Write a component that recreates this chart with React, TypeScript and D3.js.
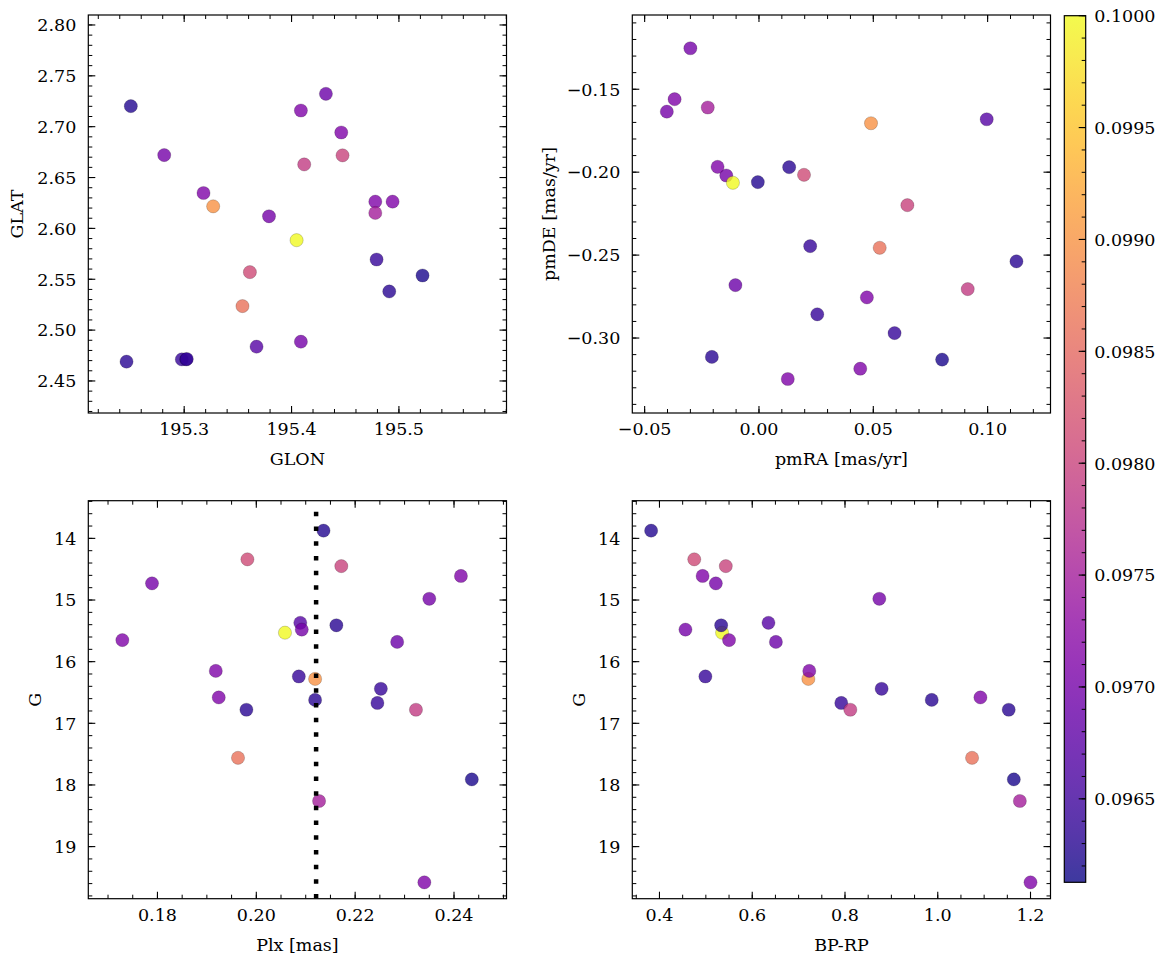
import React from "react";
import * as d3 from "d3";

// ---- Star data (one entry per star, in drawing order) ----
const glon = [195.2503, 195.3612, 195.4475, 195.2814, 195.318, 195.379, 195.3674, 195.4087, 195.4047, 195.2463, 195.4087, 195.432, 195.327, 195.4463, 195.2978, 195.478, 195.3019, 195.3024, 195.4792, 195.491, 195.4118, 195.3543, 195.522, 195.478, 195.4941];
const glat = [2.7202, 2.557, 2.6718, 2.6721, 2.6348, 2.6119, 2.4837, 2.4886, 2.5884, 2.469, 2.7159, 2.7323, 2.6217, 2.6943, 2.4712, 2.6263, 2.4712, 2.4716, 2.5694, 2.538, 2.6629, 2.5236, 2.5537, 2.6152, 2.6263];
const pmra = [-0.0005, 0.0197, 0.0649, -0.03, -0.0369, -0.0403, 0.0996, -0.0143, -0.0114, 0.0132, -0.0181, -0.0103, 0.049, 0.0472, 0.0224, 0.0443, 0.1126, 0.0255, 0.0593, -0.0206, 0.0913, 0.0528, 0.0801, -0.0224, 0.0126];
const pmde = [-0.206, -0.2016, -0.2199, -0.1253, -0.156, -0.1635, -0.1681, -0.202, -0.2064, -0.197, -0.1968, -0.2681, -0.1705, -0.2755, -0.2446, -0.3185, -0.2538, -0.2857, -0.297, -0.3114, -0.2705, -0.2456, -0.313, -0.161, -0.3247];
const plx = [0.2136, 0.1982, 0.2172, 0.1789, 0.2414, 0.235, 0.2089, 0.2092, 0.2058, 0.2162, 0.1729, 0.2285, 0.2119, 0.1918, 0.2086, 0.1924, 0.2119, 0.2252, 0.2245, 0.198, 0.2323, 0.1963, 0.2436, 0.2127, 0.234];
const gmag = [13.875, 14.34, 14.45, 14.73, 14.61, 14.98, 15.37, 15.48, 15.53, 15.41, 15.65, 15.68, 16.28, 16.15, 16.24, 16.58, 16.62, 16.44, 16.67, 16.78, 16.78, 17.56, 17.91, 18.26, 19.58];
const bprp = [0.382, 0.475, 0.543, 0.5215, 0.493, 0.874, 0.635, 0.456, 0.535, 0.533, 0.55, 0.651, 0.721, 0.723, 0.499, 1.092, 0.987, 0.879, 0.792, 1.153, 0.8115, 1.074, 1.164, 1.177, 1.2];
const cval = [0.09625, 0.0981, 0.098, 0.097, 0.0971, 0.097, 0.0967, 0.097, 0.1, 0.0963, 0.0971, 0.0969, 0.099, 0.0971, 0.0964, 0.0971, 0.0963, 0.0964, 0.0964, 0.0963, 0.0979, 0.0986, 0.0962, 0.0975, 0.0971];

// reference parallax line
const plxRef = 0.2121;

// ---- Axis limits and tick labels ----
const glonDomain = [195.2107, 195.6002];
const glatDomain = [2.4185, 2.8098];
const pmraDomain = [-0.0554, 0.1275];
const pmdeDomain = [-0.3452, -0.10524];
const plxDomain = [0.16601, 0.25062];
const bprpDomain = [0.3414, 1.2431];
const gDomain = [13.389, 19.845];
const cDomain = [0.096127, 0.1];

const glonTicks = [195.3, 195.4, 195.5];
const glonTickLabels = ["195.3", "195.4", "195.5"];
const glatTicks = [2.45, 2.5, 2.55, 2.6, 2.65, 2.7, 2.75, 2.8];
const glatTickLabels = ["2.45", "2.50", "2.55", "2.60", "2.65", "2.70", "2.75", "2.80"];
const pmraTicks = [-0.05, 0, 0.05, 0.1];
const pmraTickLabels = ["\u22120.05", "0.00", "0.05", "0.10"];
const pmdeTicks = [-0.3, -0.25, -0.2, -0.15];
const pmdeTickLabels = ["\u22120.30", "\u22120.25", "\u22120.20", "\u22120.15"];
const plxTicks = [0.18, 0.2, 0.22, 0.24];
const plxTickLabels = ["0.18", "0.20", "0.22", "0.24"];
const bprpTicks = [0.4, 0.6, 0.8, 1.0, 1.2];
const bprpTickLabels = ["0.4", "0.6", "0.8", "1.0", "1.2"];
const gTicks = [14, 15, 16, 17, 18, 19];
const gTickLabels = ["14", "15", "16", "17", "18", "19"];
const cTicks = [0.0965, 0.097, 0.0975, 0.098, 0.0985, 0.099, 0.0995, 0.1];
const cTickLabels = ["0.0965", "0.0970", "0.0975", "0.0980", "0.0985", "0.0990", "0.0995", "0.1000"];

const FONT = "'DejaVu Serif', serif";
const FS = 17.5;
const MAJ = 7;
const MIN = 4;
const LW = 1.2;

const color = d3.scaleSequential(d3.interpolatePlasma).domain(cDomain);

function minorTicks(domain: number[], step: number) {
  const lo = Math.min(domain[0], domain[1]);
  const hi = Math.max(domain[0], domain[1]);
  const start = Math.ceil(lo / step - 1e-9);
  const end = Math.floor(hi / step + 1e-9);
  const out: number[] = [];
  for (let k = start; k <= end; k++) out.push(k * step);
  return out;
}

type PanelProps = {
  id: string;
  x: number; y: number; w: number; h: number;
  xDomain: number[]; yDomain: number[]; yInvert?: boolean;
  xTicks: number[]; xTickLabels: string[]; xMinorStep: number;
  yTicks: number[]; yTickLabels: string[]; yMinorStep: number;
  xLabel: string; yLabel: string; yLabelX: number;
  xs: number[]; ys: number[];
  vline?: number; vlineTop?: number;
};

function Panel(p: PanelProps) {
  const sx = d3.scaleLinear().domain(p.xDomain).range([p.x, p.x + p.w]);
  const sy = p.yInvert
    ? d3.scaleLinear().domain(p.yDomain).range([p.y, p.y + p.h])
    : d3.scaleLinear().domain(p.yDomain).range([p.y + p.h, p.y]);
  const xMin = minorTicks(p.xDomain, p.xMinorStep);
  const yMin = minorTicks(p.yDomain, p.yMinorStep);
  const bottom = p.y + p.h;
  const right = p.x + p.w;
  return (
    <g>
      <defs>
        <clipPath id={`clip-${p.id}`}>
          <rect x={p.x} y={p.y} width={p.w} height={p.h} />
        </clipPath>
      </defs>
      <g clipPath={`url(#clip-${p.id})`}>
        {p.xs.map((v, i) => (
          <circle
            key={i}
            cx={sx(v)}
            cy={sy(p.ys[i])}
            r={6.6}
            fill={color(cval[i])}
            fillOpacity={0.8}
            stroke="rgba(0,0,0,0.3)"
            strokeWidth={0.6}
          />
        ))}
        {p.vline !== undefined && (
          <line
            x1={sx(p.vline)}
            x2={sx(p.vline)}
            y1={sy(p.vlineTop as number)}
            y2={bottom}
            stroke="#000"
            strokeWidth={4.5}
            strokeDasharray="4.5 10.2"
          />
        )}
      </g>
      {xMin.map((v, i) => (
        <g key={`xm${i}`}>
          <line x1={sx(v)} x2={sx(v)} y1={bottom} y2={bottom - MIN} stroke="#000" strokeWidth={1} />
          <line x1={sx(v)} x2={sx(v)} y1={p.y} y2={p.y + MIN} stroke="#000" strokeWidth={1} />
        </g>
      ))}
      {yMin.map((v, i) => (
        <g key={`ym${i}`}>
          <line x1={p.x} x2={p.x + MIN} y1={sy(v)} y2={sy(v)} stroke="#000" strokeWidth={1} />
          <line x1={right} x2={right - MIN} y1={sy(v)} y2={sy(v)} stroke="#000" strokeWidth={1} />
        </g>
      ))}
      {p.xTicks.map((v, i) => (
        <g key={`xM${i}`}>
          <line x1={sx(v)} x2={sx(v)} y1={bottom} y2={bottom - MAJ} stroke="#000" strokeWidth={1.1} />
          <line x1={sx(v)} x2={sx(v)} y1={p.y} y2={p.y + MAJ} stroke="#000" strokeWidth={1.1} />
          <text x={sx(v)} y={bottom + 22} textAnchor="middle" fontFamily={FONT} fontSize={FS}>
            {p.xTickLabels[i]}
          </text>
        </g>
      ))}
      {p.yTicks.map((v, i) => (
        <g key={`yM${i}`}>
          <line x1={p.x} x2={p.x + MAJ} y1={sy(v)} y2={sy(v)} stroke="#000" strokeWidth={1.1} />
          <line x1={right} x2={right - MAJ} y1={sy(v)} y2={sy(v)} stroke="#000" strokeWidth={1.1} />
          <text x={p.x - 12} y={sy(v)} dy="0.36em" textAnchor="end" fontFamily={FONT} fontSize={FS}>
            {p.yTickLabels[i]}
          </text>
        </g>
      ))}
      <rect x={p.x} y={p.y} width={p.w} height={p.h} fill="none" stroke="#000" strokeWidth={LW} />
      <text x={p.x + p.w / 2} y={bottom + 52} textAnchor="middle" fontFamily={FONT} fontSize={FS}>
        {p.xLabel}
      </text>
      <text
        transform={`translate(${p.yLabelX},${p.y + p.h / 2}) rotate(-90)`}
        textAnchor="middle"
        dy="0.36em"
        fontFamily={FONT}
        fontSize={FS}
      >
        {p.yLabel}
      </text>
    </g>
  );
}

function Colorbar({ x, y, w, h }: { x: number; y: number; w: number; h: number }) {
  const s = d3.scaleLinear().domain(cDomain).range([y + h, y]);
  const stops = d3.range(0, 1.0001, 0.05);
  const minors = minorTicks(cDomain, 0.0001);
  return (
    <g>
      <defs>
        <linearGradient id="cbar" x1="0" y1="1" x2="0" y2="0">
          {stops.map((t, i) => (
            <stop key={i} offset={`${t * 100}%`} stopColor={d3.interpolatePlasma(t)} />
          ))}
        </linearGradient>
      </defs>
      <rect x={x} y={y} width={w} height={h} fill="url(#cbar)" fillOpacity={0.8} />
      {minors.map((v, i) => (
        <line key={`cm${i}`} x1={x + w} x2={x + w - MIN} y1={s(v)} y2={s(v)} stroke="#000" strokeWidth={1} />
      ))}
      {cTicks.map((v, i) => (
        <g key={`cM${i}`}>
          <line x1={x + w} x2={x + w - MAJ} y1={s(v)} y2={s(v)} stroke="#000" strokeWidth={1.1} />
          <text x={x + w + 8.5} y={s(v)} dy="0.36em" fontFamily={FONT} fontSize={FS}>
            {cTickLabels[i]}
          </text>
        </g>
      ))}
      <rect x={x} y={y} width={w} height={h} fill="none" stroke="#000" strokeWidth={LW} />
    </g>
  );
}

export default function App() {
  const L1 = 88.3, L2 = 632.3, PW = 418.2;
  const T1 = 15, T2 = 500.7, PH = 398;
  return (
    <svg
      width={1166}
      height={965}
      style={{ position: "absolute", left: 0, top: 0, display: "block", background: "#fff" }}
    >
      <rect x={0} y={0} width={1166} height={965} fill="#fff" />
      <Panel
        id="p1" x={L1} y={T1} w={PW} h={PH}
        xDomain={glonDomain} yDomain={glatDomain}
        xTicks={glonTicks} xTickLabels={glonTickLabels} xMinorStep={0.02}
        yTicks={glatTicks} yTickLabels={glatTickLabels} yMinorStep={0.01}
        xLabel="GLON" yLabel="GLAT" yLabelX={17}
        xs={glon} ys={glat}
      />
      <Panel
        id="p2" x={L2} y={T1} w={PW} h={PH}
        xDomain={pmraDomain} yDomain={pmdeDomain}
        xTicks={pmraTicks} xTickLabels={pmraTickLabels} xMinorStep={0.01}
        yTicks={pmdeTicks} yTickLabels={pmdeTickLabels} yMinorStep={0.01}
        xLabel="pmRA [mas/yr]" yLabel="pmDE [mas/yr]" yLabelX={549}
        xs={pmra} ys={pmde}
      />
      <Panel
        id="p3" x={L1} y={T2} w={PW} h={PH}
        xDomain={plxDomain} yDomain={gDomain} yInvert
        xTicks={plxTicks} xTickLabels={plxTickLabels} xMinorStep={0.005}
        yTicks={gTicks} yTickLabels={gTickLabels} yMinorStep={0.2}
        xLabel="Plx [mas]" yLabel="G" yLabelX={35}
        xs={plx} ys={gmag}
        vline={plxRef} vlineTop={13.57}
      />
      <Panel
        id="p4" x={L2} y={T2} w={PW} h={PH}
        xDomain={bprpDomain} yDomain={gDomain} yInvert
        xTicks={bprpTicks} xTickLabels={bprpTickLabels} xMinorStep={0.05}
        yTicks={gTicks} yTickLabels={gTickLabels} yMinorStep={0.2}
        xLabel="BP-RP" yLabel="G" yLabelX={579}
        xs={bprp} ys={gmag}
      />
      <Colorbar x={1064.3} y={15.7} w={21.4} h={866.6} />
    </svg>
  );
}
